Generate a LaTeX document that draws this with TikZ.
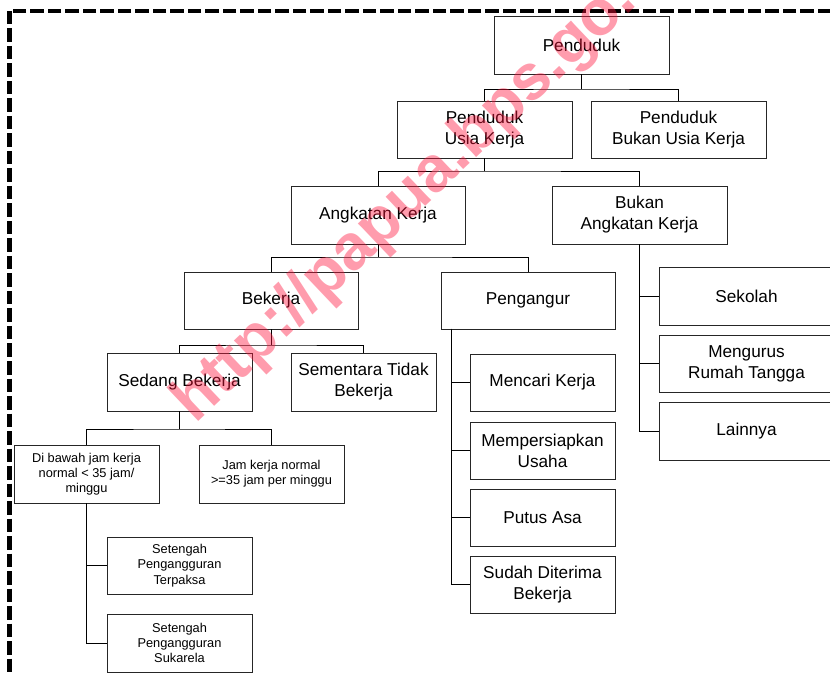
\documentclass[tikz,border=0pt]{standalone}
\usepackage{fontspec}
\setmainfont{Liberation Sans}
\definecolor{wmcol}{RGB}{255,20,60}
\begin{document}
\begin{tikzpicture}[x=1pt,y=-1pt]
\tikzset{
  bx/.style={draw=black!85, line width=0.9pt, inner sep=0pt, align=center,
    minimum width=145pt, minimum height=58pt, font=\fontsize{17.2}{21}\selectfont},
  wide/.style={minimum width=175pt},
  sbx/.style={bx, font=\fontsize{12.8}{15.3}\selectfont},
  ln/.style={draw=black, line width=0.9pt},
  border/.style={draw=black, line width=4.5pt, dash pattern=on 13.5pt off 4pt},
}
\useasboundingbox (0,0) rectangle (830,676);
\clip (0,0) rectangle (830,676);
\fill[white] (0,0) rectangle (830,676);
\draw[border] (9.3,11) rectangle (860,700);

% level 0-1
\node[bx, wide] (pend) at (581.5,45) {Penduduk};
\node[bx, wide, minimum height=57pt] (puk) at (484.5,129.5) {Penduduk\\Usia Kerja};
\node[bx, wide, minimum height=57pt] (pbuk) at (678.5,129.5) {Penduduk\\Bukan Usia Kerja};
% level 2
\node[bx, minimum width=174pt] (ak) at (378,215) {Angkatan Kerja};
\node[bx, wide] (bak) at (639.5,215) {Bukan\\Angkatan Kerja};
% level 3
\node[bx, minimum width=174pt, minimum height=57pt] (bek) at (271,300.5) {Bekerja};
\node[bx, minimum width=174pt, minimum height=57pt] (peng) at (528,300.5) {Pengangur};
% level 4
\node[bx] (sb) at (179.5,382) {Sedang Bekerja};
\node[bx] (stb) at (363.5,382) {Sementara Tidak\\Bekerja};
% level 5
\node[sbx] (dbj) at (86.5,474) {Di bawah jam kerja\\normal < 35 jam/\\minggu};
\node[sbx] (jkn) at (271.5,474) {Jam kerja normal\\>=35 jam per minggu};
\node[sbx, minimum height=57pt] (spt) at (179.5,565.5) {Setengah\\Pengangguran\\Terpaksa};
\node[sbx] (sps) at (179.5,643) {Setengah\\Pengangguran\\Sukarela};
% pengangur children
\node[bx, minimum height=57pt] (mk) at (542.5,382.5) {Mencari Kerja};
\node[bx, minimum height=57pt] (mu) at (542.5,450.5) {Mempersiapkan\\Usaha};
\node[bx, minimum height=57pt] (pa) at (542.5,517.5) {Putus Asa};
\node[bx, minimum height=57pt] (sdb) at (542.5,584.5) {Sudah Diterima\\Bekerja};
% bukan angkatan kerja children
\node[bx, wide] (sek) at (746.5,296) {Sekolah};
\node[bx, wide, minimum height=57pt] (mrt) at (746.5,363.5) {Mengurus\\Rumah Tangga};
\node[bx, wide] (lain) at (746.5,431) {Lainnya};

% junctions
\coordinate (j1) at (581.5,89);
\coordinate (j2) at (484.5,171);
\coordinate (j3) at (378,257);
\coordinate (j4) at (271,345);
\coordinate (j5) at (179.5,429);
\coordinate (pv) at (451,329);

\draw[ln] (pend.south) -- (j1);
\draw[ln] (puk.north) |- (j1) -| (pbuk.north);
\draw[ln] (puk.south) -- (j2);
\draw[ln] (ak.north) |- (j2) -| (bak.north);
\draw[ln] (ak.south) -- (j3);
\draw[ln] (bek.north) |- (j3) -| (peng.north);
\draw[ln] (bek.south) -- (j4);
\draw[ln] (sb.north) |- (j4) -| (stb.north);
\draw[ln] (sb.south) -- (j5);
\draw[ln] (dbj.north) |- (j5) -| (jkn.north);
\draw[ln] (dbj.south) |- (spt.west);
\draw[ln] (dbj.south) |- (sps.west);
\draw[ln] (pv) |- (mk.west);
\draw[ln] (pv) |- (mu.west);
\draw[ln] (pv) |- (pa.west);
\draw[ln] (pv) |- (sdb.west);
\draw[ln] (bak.south) |- (sek.west);
\draw[ln] (bak.south) |- (mrt.west);
\draw[ln] (bak.south) |- (lain.west);

% watermark
\node[rotate=43.5, anchor=base west, inner sep=0pt, text=wmcol, opacity=0.42,
  font=\fontsize{64}{64}\selectfont\bfseries] (wm) at (195,425) {http://papua.bps.go.id};
\end{tikzpicture}
\end{document}
